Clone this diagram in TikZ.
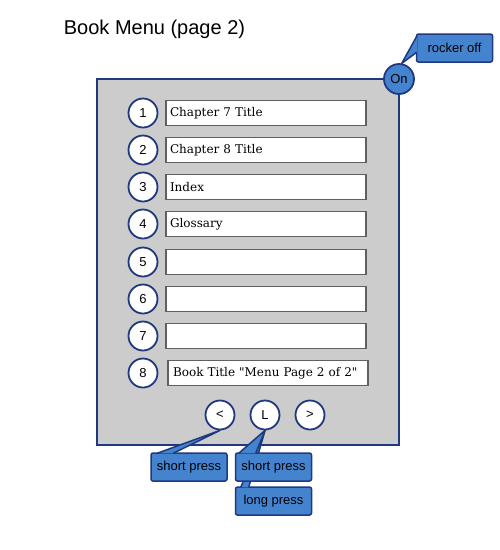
\documentclass[tikz,border=0pt]{standalone}
\usepackage{fontspec}
\setmainfont{Liberation Sans}
\newfontfamily\serifbox{DejaVu Serif}
\definecolor{navy}{RGB}{31,56,128}
\definecolor{callblue}{RGB}{68,132,206}
\definecolor{panelgray}{RGB}{204,204,204}
\definecolor{boxgray}{RGB}{96,96,96}
\tikzset{
  numcirc/.style={circle, draw=navy, line width=1.8pt, fill=white, minimum size=29pt, inner sep=0pt, font=\fontsize{13}{15}\selectfont},
  titlebox/.style={rectangle, draw=boxgray, line width=1.2pt, fill=white, minimum height=25pt, text width=192pt, inner sep=4pt, align=left, font=\serifbox\fontsize{12}{14}\selectfont},
  callbox/.style={rectangle, rounded corners=2pt, draw=navy, line width=1.5pt, fill=callblue, minimum width=76pt, minimum height=28pt, inner sep=2pt, font=\fontsize{13}{15}\selectfont},
  wedge/.style={draw=navy, line width=1.5pt, fill=callblue, line join=round},
}
\begin{document}
\begin{tikzpicture}[x=1pt, y=-1pt]
    \useasboundingbox (0,0) rectangle (500,550);
    \node(title) at (154.5,29) {\fontsize{20}{24}\selectfont Book Menu (page 2)};
    \node[draw=navy, line width=2pt, fill=panelgray, minimum width=302pt, minimum height=366pt, inner sep=0pt](panel) at (248,262) {};
    % menu rows
    \foreach \n/\y/\txt in {1/113/Chapter 7 Title, 2/150/Chapter 8 Title, 3/187/Index, 4/224/Glossary, 5/262/, 6/299/, 7/336/}{
      \node[numcirc](num\n) at (143,\y) {\n};
      \node[titlebox](row\n) at (266,\y) {\txt};
    }
    \node[numcirc](num8) at (143,373) {8};
    \node[titlebox, inner sep=5pt, text width=190pt](row8) at (268,373) {Book Title "Menu Page 2 of 2"};
    % buttons
    \node[numcirc](prev) at (220,415) {<};
    \node[numcirc](home) at (265,415) {L};
    \node[numcirc](next) at (310,415) {>};
    \node[numcirc, fill=callblue, minimum size=30pt](on) at (399,79) {On};
    % callouts
    \node[callbox](rocker) at (454.5,48) {rocker off};
    \draw[wedge] ([xshift=1pt, yshift=-3pt]rocker.north west) -- (on.80) -- ([xshift=1pt, yshift=-19pt]rocker.north west);
    \node[callbox](lpress) at (273.5,501) {long press};
    \draw[wedge] ([xshift=6pt, yshift=-1pt]lpress.north west) -- (home.south) -- ([xshift=14pt, yshift=-1pt]lpress.north west);
    \node[callbox](spress) at (273.5,467) {short press};
    \draw[wedge] ([xshift=4pt, yshift=-1pt]spress.north west) -- (home.south) -- ([xshift=21pt, yshift=-1pt]spress.north west);
    \node[callbox](sprev) at (189,467) {short press};
    \draw[wedge] ([xshift=7pt, yshift=-1pt]sprev.north west) -- (prev.south) -- ([xshift=23pt, yshift=-1pt]sprev.north west);
\end{tikzpicture}
\end{document}
